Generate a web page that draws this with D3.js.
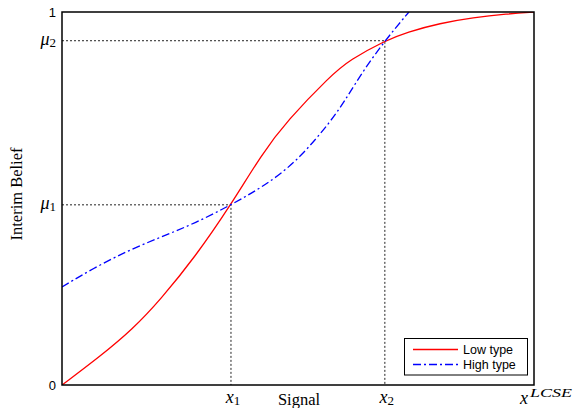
<!DOCTYPE html>
<html><head><meta charset="utf-8">
<script src="https://cdn.jsdelivr.net/npm/d3@7"></script>
<style>body{margin:0;background:#fff;}svg{display:block;}</style>
</head><body>
<svg id="c" width="573" height="408"></svg>
<script>
const lowX  = [0, 0.081, 0.150, 0.208, 0.2825, 0.358, 0.4237, 0.4767, 0.568, 0.610, 0.684, 0.731, 0.801, 0.871, 0.943, 1];
const lowY  = [0, 0.077, 0.150, 0.228, 0.344, 0.483, 0.620, 0.708, 0.828, 0.872, 0.923, 0.946, 0.970, 0.985, 0.995, 1];
const highX = [0, 0.0706, 0.1413, 0.2119, 0.2825, 0.358, 0.4237, 0.4943, 0.572, 0.604, 0.638, 0.684, 0.735];
const highY = [0.263, 0.316, 0.361, 0.398, 0.434, 0.483, 0.530, 0.594, 0.710, 0.772, 0.842, 0.923, 1];
const xMarks = [0.358, 0.684];
const yMarks = [0.483, 0.923];
const markSubs = ["1", "2"];
const seriesNames = ["Low type", "High type"];

const svg = d3.select("#c");
const L = 62, R = 534, T = 12, B = 385;
const x = d3.scaleLinear().domain([0, 1]).range([L, R]);
const y = d3.scaleLinear().domain([0, 1]).range([B, T]);

const g = svg.append("g");
g.append("defs").append("clipPath").attr("id", "clip")
  .append("rect").attr("x", L).attr("y", T).attr("width", R - L).attr("height", B - T);

// guide dotted lines
xMarks.forEach((xv, i) => {
  const yv = yMarks[i];
  g.append("path")
    .attr("d", `M${x(0)},${y(yv)}H${x(xv)}V${y(0)}`)
    .attr("fill", "none").attr("stroke", "#222").attr("stroke-width", 1)
    .attr("stroke-dasharray", "2,2");
});

const line = d3.line().x(d => x(d[0])).y(d => y(d[1])).curve(d3.curveBasis);
const lowData = lowX.map((v, i) => [v, lowY[i]]);
const highData = highX.map((v, i) => [v, highY[i]]);

g.append("path").datum(lowData).attr("d", line).attr("clip-path", "url(#clip)")
  .attr("fill", "none").attr("stroke", "#ff0000").attr("stroke-width", 1.3);
g.append("path").datum(highData).attr("d", line).attr("clip-path", "url(#clip)")
  .attr("fill", "none").attr("stroke", "#0000ff").attr("stroke-width", 1.3)
  .attr("stroke-dasharray", "8,3,2,3");

// frame
g.append("rect").attr("x", L).attr("y", T).attr("width", R - L).attr("height", B - T)
  .attr("fill", "none").attr("stroke", "#000").attr("stroke-width", 1.5);

// tick labels
const sans = "'Liberation Sans', Arial, sans-serif";
const serif = "'Liberation Serif', 'Times New Roman', serif";
g.append("text").attr("x", 56).attr("y", y(1) + 5).attr("text-anchor", "end")
  .attr("font-family", sans).attr("font-size", 13).text("1");
g.append("text").attr("x", 56).attr("y", y(0) + 5).attr("text-anchor", "end")
  .attr("font-family", sans).attr("font-size", 13).text("0");

yMarks.forEach((yv, i) => {
  const t = g.append("text").attr("x", 56).attr("y", y(yv) + 4).attr("text-anchor", "end")
    .attr("font-family", serif).attr("font-size", 18);
  t.append("tspan").attr("font-style", "italic").text("μ");
  t.append("tspan").attr("font-size", 13).attr("dy", 2).text(markSubs[i]);
});
xMarks.forEach((xv, i) => {
  const t = g.append("text").attr("x", x(xv) + 2).attr("y", 403).attr("text-anchor", "middle")
    .attr("font-family", serif).attr("font-size", 18);
  t.append("tspan").attr("font-style", "italic").text("x");
  t.append("tspan").attr("font-size", 13).attr("dy", 2).text(markSubs[i]);
});

// x^LCSE
g.append("text").attr("x", 520).attr("y", 404)
  .attr("font-family", serif).attr("font-size", 18).attr("font-style", "italic").text("x");
g.append("text").attr("x", 530).attr("y", 397)
  .attr("font-family", serif).attr("font-size", 13).attr("font-style", "italic")
  .attr("textLength", 42).attr("lengthAdjust", "spacingAndGlyphs").text("LCSE");

// axis titles
g.append("text").attr("x", 299).attr("y", 405).attr("text-anchor", "middle")
  .attr("font-family", serif).attr("font-size", 16.5).text("Signal");
g.append("text").attr("transform", "translate(22,194) rotate(-90)").attr("text-anchor", "middle")
  .attr("font-family", serif).attr("font-size", 16.5).text("Interim Belief");

// legend
const lg = g.append("g");
lg.append("rect").attr("x", 404.5).attr("y", 338.5).attr("width", 123).attr("height", 36.5)
  .attr("fill", "#fff").attr("stroke", "#000").attr("stroke-width", 1);
const colors = ["#ff0000", "#0000ff"];
const dashes = [null, "8,3,2,3"];
seriesNames.forEach((n, i) => {
  const yy = 349.5 + i * 15;
  lg.append("line").attr("x1", 413).attr("x2", 458).attr("y1", yy).attr("y2", yy)
    .attr("stroke", colors[i]).attr("stroke-width", 1.3).attr("stroke-dasharray", dashes[i]);
  lg.append("text").attr("x", 463).attr("y", yy + 4.5).attr("font-family", sans)
    .attr("font-size", 12.5).text(n);
});
</script>
</body></html>
